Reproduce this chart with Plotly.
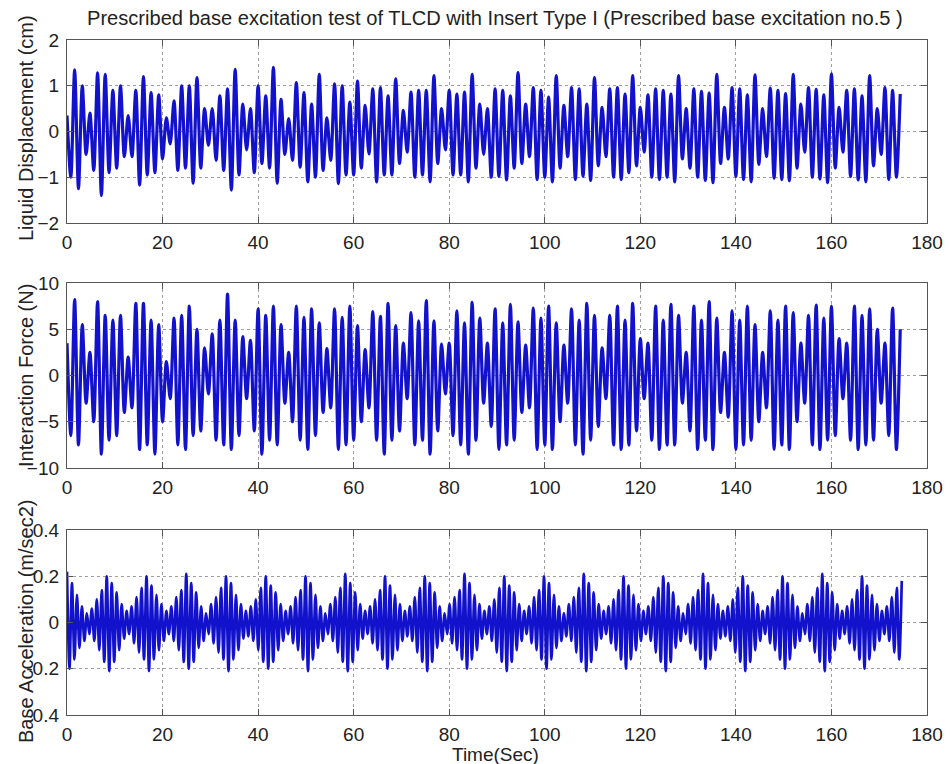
import plotly.graph_objects as go
from plotly.subplots import make_subplots
import numpy as np

# ---------------- data (extrema) ----------------
resp_dt = 0.8   # s between successive extrema, top & middle panels
acc_dt = 0.52   # s between successive extrema, bottom panel

liquid_disp = [
    0.35, -1.0, 1.35, -1.25, 1.0, -0.5, 0.4, -0.85, 1.28, -1.4,
    1.25, -0.9, 0.9, -0.8, 1.0, -0.55, 0.35, -0.55, 0.9, -1.17,
    1.2, -0.95, 0.85, -0.9, 0.8, -0.6, 0.3, -0.27, 0.67, -0.85,
    1.0, -0.8, 1.0, -1.13, 1.18, -0.8, 0.5, -0.3, 0.5, -0.63,
    0.78, -0.85, 0.93, -1.28, 1.36, -0.95, 0.6, -0.4, 0.5, -0.9,
    1.0, -0.7, 0.78, -0.8, 1.4, -1.13, 0.7, -0.5, 0.28, -0.63,
    1.07, -0.78, 0.85, -1.1, 0.6, -1.0, 1.25, -0.85, 0.3, -0.63,
    1.04, -1.14, 1.0, -0.95, 0.64, -0.95, 1.1, -0.8, 0.57, -0.49,
    0.93, -1.1, 0.96, -0.95, 0.78, -0.95, 1.15, -0.7, 0.46, -0.45,
    0.86, -1.0, 0.9, -0.95, 0.9, -1.1, 1.22, -0.7, 0.5, -0.4,
    0.9, -0.95, 0.82, -0.95, 0.86, -1.1, 1.25, -0.8, 0.6, -0.5,
    0.5, -1.0, 0.93, -0.98, 0.9, -1.06, 0.78, -0.8, 1.29, -0.7,
    0.6, -0.55, 0.96, -1.05, 0.9, -1.0, 0.75, -1.1, 1.22, -0.8,
    0.57, -0.55, 0.96, -1.05, 0.93, -0.98, 0.6, -1.07, 1.18, -0.75,
    0.53, -0.55, 0.93, -1.0, 0.96, -1.05, 0.82, -0.9, 1.22, -0.75,
    0.53, -0.45, 0.8, -1.0, 0.93, -1.05, 0.9, -1.0, 0.82, -1.1,
    1.22, -0.6, 0.5, -0.8, 0.93, -1.0, 0.88, -1.07, 0.84, -1.12,
    1.25, -0.7, 0.53, -0.6, 0.96, -0.98, 0.93, -1.05, 0.8, -1.1,
    1.24, -0.72, 0.5, -0.55, 0.95, -1.02, 0.9, -1.05, 0.83, -1.08,
    1.25, -0.8, 0.6, -0.45, 0.96, -1.0, 0.92, -1.04, 0.8, -1.12,
    1.26, -0.8, 0.53, -0.45, 0.9, -0.98, 0.93, -1.06, 0.78, -1.1,
    1.22, -0.75, 0.5, -0.5, 0.96, -1.05, 0.9, -1.0, 0.82,
]

interaction_force = [
    3.5, -6.5, 8.2, -7.5, 5.5, -3.0, 2.5, -5.0, 8.0, -8.5,
    6.5, -7.0, 6.0, -6.5, 6.5, -4.0, 2.0, -3.5, 7.8, -8.0,
    7.8, -7.5, 6.0, -8.5, 5.5, -5.0, 1.5, -2.5, 6.2, -7.5,
    6.5, -8.0, 7.5, -6.5, 5.0, -6.0, 3.0, -2.0, 4.5, -7.0,
    6.0, -7.5, 8.8, -8.0, 6.0, -6.5, 4.2, -2.5, 3.8, -6.0,
    7.2, -8.5, 6.5, -7.0, 7.5, -7.5, 5.5, -3.0, 2.5, -5.0,
    7.5, -7.0, 6.3, -8.0, 7.2, -6.5, 5.7, -4.0, 2.9, -3.5,
    7.2, -8.0, 6.3, -7.5, 7.5, -7.0, 5.4, -5.0, 2.8, -3.5,
    6.9, -7.0, 6.4, -8.5, 7.8, -7.0, 5.4, -6.0, 3.5, -2.5,
    6.8, -7.5, 5.9, -7.0, 8.1, -8.5, 5.9, -6.0, 3.4, -2.0,
    3.5, -6.5, 7.0, -7.5, 5.7, -8.5, 7.9, -7.0, 6.2, -3.0,
    3.5, -5.5, 7.2, -8.0, 5.7, -7.5, 7.7, -7.0, 5.8, -4.0,
    3.3, -3.5, 7.3, -8.0, 6.2, -7.5, 7.5, -8.0, 5.7, -5.0,
    3.3, -3.0, 7.2, -7.5, 6.0, -8.5, 7.8, -7.0, 6.5, -5.5,
    3.0, -2.5, 6.5, -7.5, 7.5, -8.0, 6.0, -7.5, 7.8, -6.0,
    4.0, -2.5, 3.5, -7.0, 7.5, -8.0, 6.0, -7.5, 7.7, -7.5,
    6.5, -3.0, 2.5, -6.0, 7.5, -8.0, 6.0, -7.0, 8.0, -8.0,
    6.2, -4.0, 2.5, -4.5, 7.0, -8.0, 6.0, -7.5, 7.5, -7.0,
    5.5, -5.0, 2.5, -3.5, 7.0, -8.0, 6.0, -7.5, 7.5, -8.0,
    6.8, -5.0, 3.5, -3.0, 6.5, -7.5, 7.6, -8.0, 6.2, -7.0,
    7.5, -6.5, 4.0, -2.5, 3.5, -7.0, 7.5, -8.0, 6.5, -7.5,
    7.2, -7.0, 5.0, -3.0, 3.5, -6.5, 7.3, -8.0, 5.0,
]

base_acc = [
    0.22, -0.20, 0.17, -0.16, 0.12, -0.11, 0.07, -0.08, 0.04, -0.05, 0.06, -0.08, 0.10, -0.12, 0.14, -0.17,
    0.20, -0.21, 0.17, -0.17, 0.13, -0.12, 0.08, -0.07, 0.05, -0.05, 0.07, -0.09, 0.11, -0.13, 0.15, -0.16,
    0.20, -0.21, 0.16, -0.16, 0.12, -0.12, 0.08, -0.08, 0.05, -0.05, 0.07, -0.08, 0.11, -0.12, 0.14, -0.17,
    0.21, -0.20, 0.17, -0.17, 0.13, -0.11, 0.07, -0.08, 0.04, -0.05, 0.08, -0.09, 0.11, -0.13, 0.15, -0.16,
    0.20, -0.21, 0.17, -0.16, 0.12, -0.12, 0.08, -0.07, 0.05, -0.06, 0.07, -0.08, 0.10, -0.12, 0.15, -0.17,
    0.20, -0.20, 0.16, -0.17, 0.13, -0.12, 0.08, -0.08, 0.05, -0.05, 0.07, -0.09, 0.11, -0.12, 0.14, -0.16,
    0.20, -0.21, 0.17, -0.16, 0.12, -0.11, 0.07, -0.08, 0.04, -0.05, 0.08, -0.08, 0.11, -0.13, 0.15, -0.17,
    0.21, -0.21, 0.17, -0.17, 0.13, -0.12, 0.08, -0.07, 0.05, -0.05, 0.07, -0.09, 0.10, -0.12, 0.14, -0.16,
    0.20, -0.20, 0.16, -0.16, 0.12, -0.12, 0.08, -0.08, 0.05, -0.06, 0.07, -0.08, 0.11, -0.13, 0.15, -0.17,
    0.20, -0.21, 0.17, -0.17, 0.13, -0.11, 0.07, -0.08, 0.04, -0.05, 0.08, -0.09, 0.11, -0.12, 0.14, -0.16,
    0.21, -0.20, 0.17, -0.16, 0.12, -0.12, 0.08, -0.07, 0.05, -0.05, 0.07, -0.08, 0.10, -0.13, 0.15, -0.17,
    0.20, -0.21, 0.16, -0.17, 0.13, -0.12, 0.08, -0.08, 0.05, -0.05, 0.07, -0.09, 0.11, -0.12, 0.14, -0.16,
    0.20, -0.20, 0.17, -0.16, 0.12, -0.11, 0.07, -0.08, 0.04, -0.06, 0.08, -0.08, 0.11, -0.13, 0.15, -0.17,
    0.21, -0.21, 0.17, -0.17, 0.13, -0.12, 0.08, -0.07, 0.05, -0.05, 0.07, -0.09, 0.10, -0.12, 0.14, -0.16,
    0.20, -0.20, 0.16, -0.16, 0.12, -0.12, 0.08, -0.08, 0.05, -0.05, 0.07, -0.08, 0.11, -0.13, 0.15, -0.17,
    0.20, -0.21, 0.17, -0.17, 0.13, -0.11, 0.07, -0.08, 0.04, -0.05, 0.08, -0.09, 0.11, -0.12, 0.14, -0.16,
    0.21, -0.20, 0.17, -0.16, 0.12, -0.12, 0.08, -0.07, 0.05, -0.06, 0.07, -0.08, 0.10, -0.13, 0.15, -0.17,
    0.20, -0.21, 0.16, -0.17, 0.13, -0.12, 0.08, -0.08, 0.05, -0.05, 0.07, -0.09, 0.11, -0.12, 0.14, -0.16,
    0.20, -0.20, 0.17, -0.16, 0.12, -0.11, 0.07, -0.08, 0.04, -0.05, 0.08, -0.08, 0.11, -0.13, 0.15, -0.17,
    0.21, -0.21, 0.17, -0.17, 0.13, -0.12, 0.08, -0.07, 0.05, -0.05, 0.07, -0.09, 0.10, -0.12, 0.14, -0.16,
    0.20, -0.20, 0.16, -0.16, 0.12, -0.12, 0.08, -0.08, 0.05, -0.05, 0.07, -0.08, 0.11, -0.13, 0.15, -0.16,
    0.18,
]

x_ticks = [0, 20, 40, 60, 80, 100, 120, 140, 160, 180]
disp_ticks = [-2, -1, 0, 1, 2]
force_ticks = [-10, -5, 0, 5, 10]
acc_ticks = [-0.4, -0.2, 0, 0.2, 0.4]
acc_tick_text = ["-0.4", "-0.2", "0", "0.2", "0.4"]

title_text = "Prescribed base excitation test of TLCD with Insert Type I (Prescribed base excitation no.5 )"
ylabels = ["Liquid Displacement (cm)", "Interaction Force (N)", "Base Acceleration (m/sec2)"]
xlabel = "Time(Sec)"

# ---------------- figure ----------------
t_resp = np.arange(len(liquid_disp)) * resp_dt
t_force = np.arange(len(interaction_force)) * resp_dt
t_acc = np.arange(len(base_acc)) * acc_dt

FONT = "Liberation Sans, Arial, Helvetica, sans-serif"
TXT = "#222222"
LINE = "rgb(18,18,205)"

fig = make_subplots(rows=3, cols=1)
widths = [3.2, 3.2, 2.7]
for i, (t, y) in enumerate([(t_resp, liquid_disp), (t_force, interaction_force), (t_acc, base_acc)], start=1):
    fig.add_trace(go.Scatter(x=t, y=y, mode="lines",
                             line=dict(color=LINE, width=widths[i - 1], shape="spline", smoothing=0.8),
                             showlegend=False, hoverinfo="skip"), row=i, col=1)

W, H = 950, 764
ml, mr, mt, mb = 67, 23, 40, 49
ph = H - mt - mb

def dom(top_px, bot_px):
    return [(H - mb - bot_px) / ph, (H - mb - top_px) / ph]

domains = [dom(40, 223), dom(283, 468), dom(530, 715)]

axis_common = dict(showline=True, linecolor="#555555", linewidth=1.3, mirror="ticks",
                   ticks="inside", ticklen=6, tickcolor="#555555", tickwidth=1,
                   showgrid=True, gridcolor="#a0a0a0", griddash="dot", gridwidth=1,
                   zeroline=False, automargin=False,
                   tickfont=dict(family=FONT, size=19, color=TXT))

for i in range(3):
    xa = "xaxis" if i == 0 else f"xaxis{i+1}"
    ya = "yaxis" if i == 0 else f"yaxis{i+1}"
    fig.layout[xa].update(range=[0, 180], tickvals=x_ticks, ticklabelstandoff=2, **axis_common)
    fig.layout[ya].update(domain=domains[i], ticklabelstandoff=3, **axis_common)

fig.layout.yaxis.update(range=[-2, 2], tickvals=disp_ticks)
fig.layout.yaxis2.update(range=[-10, 10], tickvals=force_ticks)
fig.layout.yaxis3.update(range=[-0.4, 0.4], tickvals=acc_ticks, ticktext=acc_tick_text)

annotations = [
    dict(text=title_text, x=(494.5 - ml) / (W - ml - mr), y=(H - mb - 18) / ph,
         xref="paper", yref="paper", showarrow=False, xanchor="center", yanchor="middle",
         font=dict(family=FONT, size=20.1, color=TXT)),
    dict(text=xlabel, x=(495 - ml) / (W - ml - mr), y=(H - mb - 754) / ph,
         xref="paper", yref="paper", showarrow=False, xanchor="center", yanchor="middle",
         font=dict(family=FONT, size=19, color=TXT)),
]
for lab, ypx, xpx in zip(ylabels, [128, 376, 622], [26, 26, 26]):
    annotations.append(dict(text=lab, x=(xpx - ml) / (W - ml - mr), y=(H - mb - ypx) / ph,
                            xref="paper", yref="paper", showarrow=False, textangle=-90,
                            xanchor="center", yanchor="middle",
                            font=dict(family=FONT, size=20, color=TXT)))

fig.update_layout(width=W, height=H, margin=dict(l=ml, r=mr, t=mt, b=mb, autoexpand=False),
                  paper_bgcolor="white", plot_bgcolor="white",
                  annotations=annotations, showlegend=False)

fig.write_html("out.html", config={"displayModeBar": False},
               post_script="document.body.style.margin='0';document.body.style.overflow='hidden';")
